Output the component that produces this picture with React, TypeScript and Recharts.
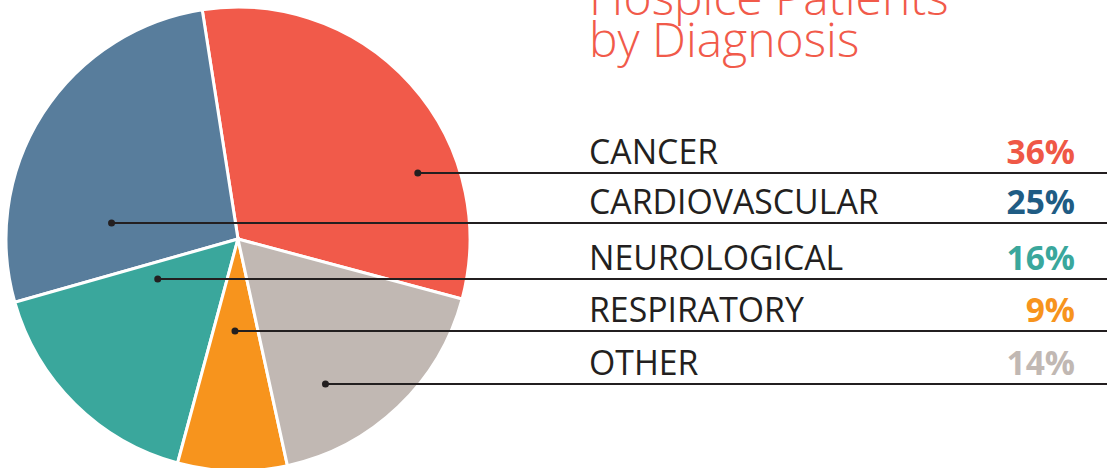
import { Cell, Pie, PieChart } from "recharts";

// legend order (also counter-clockwise order of the slices)
const categories = ["CANCER", "CARDIOVASCULAR", "NEUROLOGICAL", "RESPIRATORY", "OTHER"];
// printed percentages
const percentLabels = ["36%", "25%", "16%", "9%", "14%"];
// slice sizes as drawn in the picture (share of the circle, %)
const sliceShares = [31.6, 26.9, 16.4, 7.6, 17.4];

const sliceColors = ["#F15A4A", "#587D9C", "#3AA79C", "#F7941D", "#C1B8B3"];
const percentColors = ["#EF5846", "#1F5C84", "#3AA79C", "#F7941D", "#C1B8B3"];

// layout of the callout rows
const rowLineY = [173, 223, 279, 331, 384];
const dotXFraction = [0.775, -0.545, -0.346, -0.013, 0.377];

const W = 1107;
const H = 468;
const TEXT_X = 589;
const PCT_X = 1075;
const INK = "#231F20";
const FONT = "'Open Sans', sans-serif";

const data = categories.map((name, i) => ({ name, value: sliceShares[i] }));

type LabelProps = { cx: number; outerRadius: number; index: number };

function Callout({ cx, outerRadius, index }: LabelProps) {
  const y = rowLineY[index];
  const dotX = cx + outerRadius * dotXFraction[index];
  return (
    <g>
      <line x1={dotX} y1={y} x2={W} y2={y} stroke={INK} strokeWidth={2} />
      <circle cx={dotX} cy={y} r={3.5} fill={INK} />
      <text x={TEXT_X} y={y - 9.5} fontSize={33.8} fill={INK} fontFamily={FONT}>
        {categories[index]}
      </text>
      <text
        x={PCT_X}
        y={y - 9.5}
        fontSize={33.5}
        fontWeight={700}
        textAnchor="end"
        fill={percentColors[index]}
        fontFamily={FONT}
      >
        {percentLabels[index]}
      </text>
    </g>
  );
}

export default function App() {
  return (
    <div style={{ position: "absolute", left: 0, top: 0, width: W, height: H, overflow: "hidden", background: "#fff" }}>
      <PieChart width={W} height={H} margin={{ top: 0, right: 0, bottom: 0, left: 0 }}>
        <Pie
          data={data}
          dataKey="value"
          cx={238}
          cy={239}
          outerRadius={232}
          startAngle={-15}
          endAngle={345}
          stroke="#fff"
          strokeWidth={3}
          labelLine={false}
          label={(p: any) => <Callout cx={p.cx} outerRadius={p.outerRadius} index={p.index} />}
          isAnimationActive={false}
        >
          {data.map((d, i) => (
            <Cell key={d.name} fill={sliceColors[i]} />
          ))}
        </Pie>
      </PieChart>
      <div
        style={{
          position: "absolute",
          left: TEXT_X,
          top: -24,
          fontFamily: FONT,
          fontWeight: 300,
          fontSize: 48,
          lineHeight: "42px",
          color: "#F15A4A",
          whiteSpace: "nowrap",
        }}
      >
        <div>Hospice Patients</div>
        <div>by Diagnosis</div>
      </div>
    </div>
  );
}
